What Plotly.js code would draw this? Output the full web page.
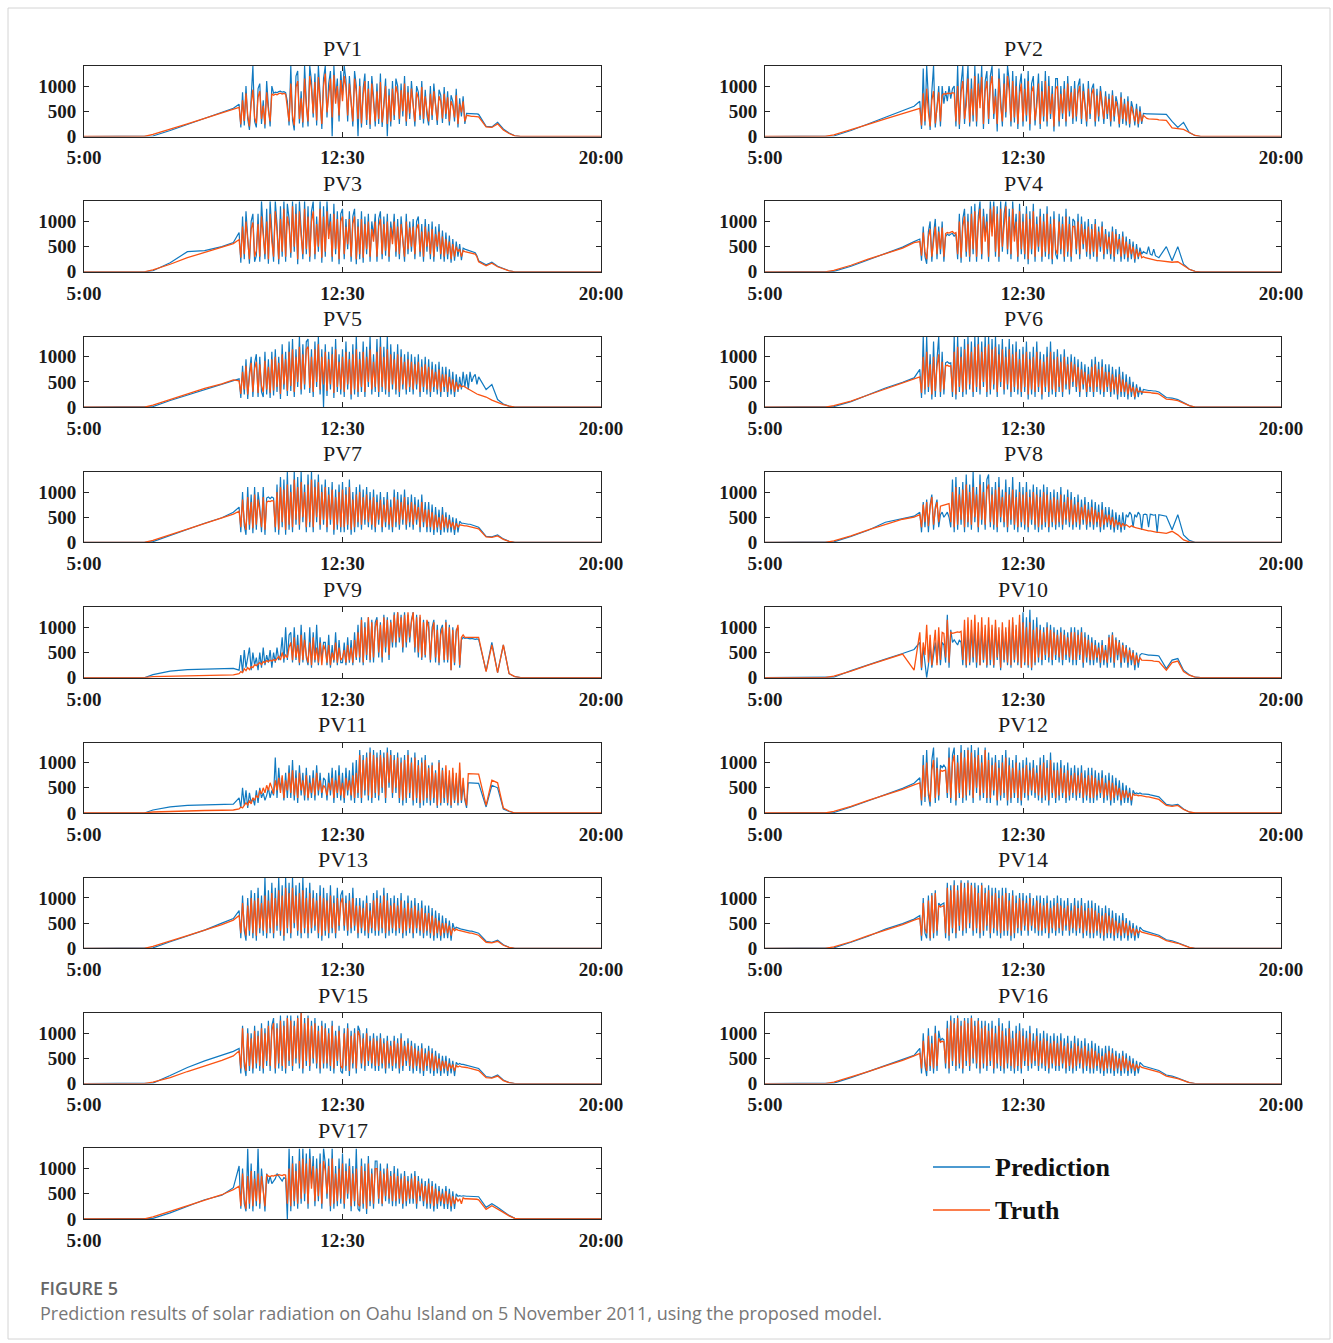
<!DOCTYPE html>
<html><head><meta charset="utf-8">
<script src="https://cdn.plot.ly/plotly-3.0.1.min.js"></script>
<style>html,body{margin:0;padding:0;background:#fff;}#chart{width:1333px;height:1343px;}</style>
</head><body><div id="chart"></div>
<script>
// ---------- sampling times of the day ----------
const rampTimes = ["05:00","06:45","07:00","07:30","08:00","08:30","09:00","09:20"];
const tailTimes = ["16:40","16:50","17:00","17:10","17:20","17:30","17:40","18:00","20:00"];
const denseStart = "09:30", denseStepMin = 3, denseCount = 140;   // 09:30 ... 16:27 every 3 min
const xTickVals = ["05:00","12:30","20:00"];
const xTickText = ["5:00","12:30","20:00"];
const yTickVals = [0,500,1000];
const panelNames = ["PV1","PV2","PV3","PV4","PV5","PV6","PV7","PV8","PV9","PV10","PV11","PV12","PV13","PV14","PV15","PV16","PV17"];
const seriesNames = ["Prediction","Truth"];

// ---------- solar radiation values (ramp 8 | dense 14 x 10 | tail 9) ----------
const truth1 = [0,0,40,140,250,360,470,540,
580,240,720,310,860,420,200,650,930,380, 260,780,900,350,610,240,880,520,300,850,
820,840,830,850,860,845,855,840,610,300, 1050,420,220,980,1100,350,760,280,1150,600,
300,1200,940,460,1080,320,1180,700,250,1000, 1250,480,900,1150,380,1220,650,1000,420,1120,
700,1200,980,420,1050,600,300,1150,880,350, 1000,260,820,1100,330,950,240,1050,700,300,
900,350,1080,280,600,1000,250,820,300,950, 420,1000,850,350,920,500,1050,300,880,460,
950,600,300,880,760,420,980,350,800,520, 300,850,420,900,560,320,800,700,360,850,
450,780,300,700,600,380,820,250,650,480, 700,300,420,410,400,400,400,400,400,390,
190,180,250,130,60,12,0,0,0];
const pred1 = [0,0,10,120,240,370,480,560,
640,180,880,220,1000,350,130,760,1400,300, 180,950,1050,250,720,160,1100,600,200,1000,
860,880,870,890,900,880,890,870,700,220, 1400,330,120,1200,1300,260,900,180,1400,700,
200,1400,1100,380,1250,220,1400,820,150,1150, 1400,380,1050,1300,0,1400,760,1150,300,1300,
820,1400,1120,300,1200,700,200,1300,1000,0, 1150,180,950,1250,230,1100,150,1200,800,200,
1050,250,1250,190,700,1150,0,950,200,1100, 330,1150,1000,250,1050,400,1200,210,1000,350,
1100,700,200,1000,880,330,1100,260,930,420, 220,1000,330,1050,650,230,930,820,270,980,
350,900,220,820,700,300,950,180,760,400, 800,250,460,455,450,450,450,450,450,440,
200,190,280,150,70,15,0,0,0];

const truth2 = [0,0,30,130,240,350,450,520,
560,220,860,300,950,480,200,720,900,260, 650,880,300,820,850,840,855,860,850,870,
860,300,1000,240,880,1100,350,620,1150,280, 950,420,1200,300,1050,560,1180,250,900,1100,
350,1000,1200,450,800,250,1150,600,300,1050, 480,1200,900,300,1100,380,1000,250,820,1050,
300,950,420,1100,250,880,1000,320,600,1050, 250,900,400,1100,300,1000,450,850,200,950,
1000,300,850,460,950,300,1050,500,880,360, 950,400,850,1000,350,900,600,300,950,450,
850,950,300,820,400,900,600,350,800,450, 750,300,820,400,700,550,250,780,350,650,
300,700,250,600,450,300,550,250,500,300, 420,380,360,350,350,350,340,350,340,330,
320,170,150,140,80,20,0,0,0];
const pred2 = [0,0,10,120,250,370,500,600,
700,150,1350,220,1400,600,130,900,1400,180, 700,1000,200,1000,650,900,700,1000,750,950,
1000,200,1400,150,1050,1400,250,750,1400,200, 1150,300,1400,200,1250,700,1400,150,1100,1300,
250,1200,1400,350,950,100,1350,750,200,1250, 380,1400,1100,200,1300,280,1200,150,1000,1250,
200,1150,300,1300,120,1050,1200,220,750,1250, 150,1100,300,1300,200,1200,350,1000,100,1150,
1150,200,1000,350,1100,200,1200,400,1000,250, 1100,300,1000,1150,250,1050,700,200,1100,350,
950,1050,200,950,300,1000,700,250,900,350, 850,200,920,300,800,650,180,880,250,750,
220,800,180,700,550,220,650,180,600,250, 460,450,450,450,450,450,450,450,450,450,
440,300,180,280,80,20,0,0,0];

const truth3 = [0,0,40,150,280,380,480,560,
640,280,900,350,1000,520,250,850,980,300, 420,950,300,1100,680,350,1000,250,1150,600,
300,1200,800,250,1050,400,1250,300,1100,900, 380,1300,500,1150,250,1200,700,350,1250,450,
1100,300,1000,1200,350,950,500,1250,280,1100, 400,1200,650,1000,300,1150,450,1050,250,1000,
1100,350,900,550,1050,300,950,1100,250,900, 350,1050,280,950,450,1000,300,850,600,1000,
300,900,1050,350,950,420,1000,300,880,550, 1000,400,900,350,950,600,300,1000,450,880,
500,900,350,850,950,400,800,300,900,500, 800,350,850,300,750,500,800,350,700,300,
650,350,600,250,550,300,500,400,450,300, 420,400,390,380,380,370,360,350,300,200,
120,170,100,60,20,0,0,0,0];
const pred3 = [0,0,20,180,400,420,500,580,
780,180,1100,250,1200,620,160,1000,1150,200, 320,1150,200,1400,800,250,1250,160,1400,700,
200,1400,950,150,1300,300,1400,200,1350,1050, 280,1400,400,1350,150,1400,820,250,1400,350,
1300,200,1200,1400,250,1100,400,1400,180,1300, 300,1400,760,1150,200,1350,350,1200,150,1150,
1250,250,1050,450,1200,200,1100,1250,150,1050, 250,1200,180,1100,350,1150,200,1000,700,1150,
200,1050,1200,250,1100,320,1150,200,1000,650, 1150,300,1050,250,1100,700,200,1150,350,1000,
400,1050,250,1000,1100,300,950,200,1050,400, 950,250,1000,200,900,400,950,250,820,200,
780,250,720,180,650,220,600,300,550,230, 470,450,440,430,420,410,400,380,320,220,
140,190,110,70,20,0,0,0,0];

const truth4 = [0,0,30,130,250,360,470,580,
600,320,780,400,250,700,850,300,650,900, 350,800,450,880,300,760,780,770,790,800,
760,780,350,1000,280,900,1100,400,1000,300, 1150,450,1200,300,950,1250,350,1100,600,1000,
300,1250,700,1300,400,1150,300,1250,500,1000, 1300,450,1100,350,1250,600,1000,300,1200,450,
1000,350,1150,250,1050,450,1200,300,950,500, 1100,300,1000,400,1150,350,950,250,1050,450,
350,1000,450,950,300,1100,400,950,300,900, 900,450,1000,350,950,550,850,400,900,350,
850,400,950,300,800,500,900,350,750,450, 700,350,800,300,750,450,650,300,700,350,
600,280,550,350,500,250,450,300,400,280, 300,280,270,260,250,240,240,230,220,220,
200,190,200,120,50,10,0,0,0];
const pred4 = [0,0,10,110,240,370,490,600,
650,220,900,300,160,800,1000,200,750,1050, 250,900,350,1000,200,700,750,720,750,760,
700,760,250,1150,180,1050,1250,300,1150,200, 1300,350,1350,200,1100,1400,250,1250,700,1150,
200,1400,800,1400,300,1300,200,1400,400,1150, 1400,350,1250,250,1400,700,1150,200,1350,350,
1150,250,1300,150,1200,350,1350,200,1100,400, 1250,200,1150,300,1300,250,1100,150,1200,350,
250,1150,350,1100,200,1250,300,1100,200,1050, 1000,350,1150,250,1100,450,1000,300,1050,250,
950,300,1050,200,900,400,1000,250,850,350, 800,250,900,200,850,350,750,200,800,250,
700,200,650,250,600,180,550,250,480,350, 400,380,360,500,350,330,450,320,300,280,
500,220,500,150,50,10,0,0,0];

const truth5 = [0,0,40,150,260,370,460,540,
520,260,700,350,820,250,600,880,300,760, 900,280,850,420,300,920,350,800,280,950,
330,1000,400,880,260,1050,450,950,320,1100, 420,1150,300,1000,500,1200,350,1050,450,1150,
1200,380,1000,300,1150,500,1250,350,1000,450, 1100,320,950,450,1050,280,1150,400,900,350,
1000,300,1100,450,950,250,1050,350,1150,300, 950,400,1100,300,1000,500,1150,350,900,400,
1100,300,1200,400,1000,350,1150,300,1050,450, 950,350,1050,300,1000,450,900,350,950,400,
900,350,850,450,900,300,800,400,850,350, 800,300,750,400,700,350,750,300,650,400,
650,300,600,350,550,300,500,350,450,400, 420,400,380,350,330,320,300,280,260,250,
200,140,90,50,20,0,0,0,0];
const pred5 = [0,0,10,130,240,350,450,520,
560,180,820,250,950,160,700,1000,200,880, 1050,200,1000,300,200,1100,250,950,180,1100,
230,1150,300,1000,160,1250,350,1100,220,1300, 320,1350,200,1150,400,1400,250,1250,350,1300,
1350,280,1150,200,1300,400,1400,250,1150,0, 1250,220,1100,350,1200,180,1350,300,1050,250,
1150,200,1300,350,1100,150,1250,250,1400,200, 1100,300,1300,200,1200,400,1400,250,1050,300,
1350,200,1400,300,1200,250,1400,200,1250,350, 1100,250,1250,200,1150,350,1050,250,1100,300,
1050,250,1000,350,1050,200,950,300,1000,250, 950,200,900,300,850,250,900,200,800,300,
800,200,750,250,700,200,650,300,600,350, 700,400,650,350,700,500,600,650,450,600,
350,450,150,60,20,0,0,0,0];

const truth6 = [0,0,30,120,240,360,470,560,
600,280,1000,350,1100,400,850,250,1000,320, 800,1050,300,900,350,820,830,810,820,300,
1100,250,1200,400,1000,300,1150,350,1250,450, 1100,300,1200,400,1250,350,1100,500,1200,300,
1250,350,1150,450,1200,300,1050,500,1150,350, 1000,450,1150,300,1050,400,1100,350,950,300,
1050,400,1100,250,950,350,1000,300,1100,400, 950,250,900,400,1000,300,1100,350,950,300,
1000,400,900,300,1000,450,850,350,900,500, 850,400,800,300,750,450,700,300,650,400,
800,300,850,400,750,350,800,300,700,400, 700,300,650,350,600,250,650,300,550,300,
500,250,450,300,400,200,380,300,320,300, 300,300,300,290,290,280,280,280,270,260,
160,150,130,80,30,0,0,0,0];
const pred6 = [0,0,10,110,250,380,490,580,
750,180,1400,250,1400,300,1050,150,1300,200, 950,1400,200,1100,250,880,900,870,880,200,
1400,150,1400,300,1200,200,1350,250,1400,350, 1300,200,1400,300,1400,250,1300,400,1400,200,
1400,250,1350,350,1400,200,1250,400,1350,250, 1200,350,1350,200,1250,300,1300,250,1150,200,
1200,300,1300,150,1100,250,1200,200,1300,300, 1100,150,1050,300,1200,200,1300,250,1100,200,
1150,300,1050,200,1150,350,1000,250,1050,400, 1000,300,950,200,900,350,850,200,800,300,
950,200,1000,300,900,250,950,200,850,300, 850,200,800,250,750,150,800,200,700,200,
650,150,600,200,500,150,450,200,400,250, 350,340,340,330,330,320,320,320,310,300,
190,180,150,90,30,0,0,0,0];

const truth7 = [0,0,40,150,260,370,480,560,
620,300,850,420,250,900,350,800,280,950, 350,850,600,300,900,250,800,820,810,830,
820,300,1000,250,1100,400,1050,250,1150,350, 1000,300,1250,450,1100,350,1200,500,1000,300,
1150,400,1250,300,1100,500,1200,350,1000,450, 1100,300,950,450,1050,250,900,350,1000,300,
1050,300,950,350,1100,250,850,300,950,400, 1000,350,900,450,950,400,850,350,900,300,
800,450,850,300,750,400,850,350,700,300, 900,400,850,350,800,450,900,350,750,400,
800,350,750,450,700,300,800,400,650,300, 650,300,600,250,550,300,500,250,550,300,
500,280,450,300,400,250,380,300,350,340, 340,330,330,320,320,310,300,290,280,270,
110,100,130,60,20,0,0,0,0];
const pred7 = [0,0,15,140,270,380,490,600,
700,200,1000,330,150,1100,250,950,180,1100, 250,1000,700,200,1100,150,880,900,870,900,
880,200,1150,150,1300,300,1250,150,1400,250, 1150,200,1400,350,1300,250,1400,400,1150,200,
1350,300,1400,200,1250,400,1350,250,1150,350, 1250,200,1100,350,1200,150,1050,250,1150,200,
1200,200,1100,250,1250,150,1000,200,1100,300, 1150,250,1050,350,1100,300,1000,250,1050,200,
950,350,1000,200,900,300,1000,250,850,200, 1050,300,1000,250,950,350,1050,250,900,300,
950,250,900,350,850,200,950,300,800,200, 800,200,750,150,700,200,650,150,700,200,
600,200,550,200,500,150,480,200,420,380, 380,370,370,360,360,350,340,330,320,300,
120,110,150,70,20,0,0,0,0];

const truth8 = [0,0,30,130,250,360,460,500,
550,300,750,400,800,320,700,900,350,650, 800,400,720,730,740,750,760,770,400,1000,
300,1100,350,950,450,1050,300,1150,400,1000, 350,1100,500,950,300,1150,450,1000,350,1050,
1150,400,950,350,1050,300,1100,500,900,400, 1000,300,950,450,1050,350,900,300,1000,400,
950,350,1000,300,900,450,1000,350,950,300, 900,350,1000,400,950,300,850,400,900,350,
850,400,950,350,800,450,900,400,850,350, 750,400,800,350,700,450,750,350,650,400,
700,350,650,400,600,300,650,350,550,400, 550,350,500,300,450,350,400,300,380,330,
350,320,300,330,310,300,290,280,270,260, 250,240,240,230,230,220,220,210,200,200,
180,220,150,50,10,0,0,0,0];
const pred8 = [0,0,10,120,240,400,480,520,
600,200,800,300,850,200,750,950,250,700, 850,300,550,600,500,550,600,500,300,1250,
200,1300,250,1100,350,1200,200,1350,300,1150, 250,1400,400,1100,200,1350,350,1200,250,1250,
1350,300,1100,250,1200,200,1300,400,1050,300, 1250,200,1100,350,1300,250,1050,200,1200,300,
1100,250,1200,200,1050,350,1150,250,1100,200, 1050,250,1150,300,1100,200,1000,300,1050,250,
1000,300,1100,250,950,350,1050,300,1000,250, 900,300,950,250,850,350,900,250,800,300,
850,250,800,300,750,200,800,250,700,300, 700,250,650,200,600,250,550,200,600,250,
550,500,600,550,300,550,500,600,550,250, 550,560,550,300,560,550,540,550,200,550,
520,250,550,150,40,0,0,0,0];

const truth9 = [0,0,20,30,40,45,50,55,
80,120,100,180,140,200,160,220,200,260, 240,280,300,260,320,300,340,320,350,330,
360,340,380,420,350,500,380,450,400,600, 700,350,800,400,650,300,850,350,750,450,
300,700,250,800,350,600,300,700,250,650, 550,300,650,250,500,350,700,300,600,350,
400,550,300,650,350,600,300,750,400,900, 400,1150,300,1000,450,1200,350,1100,400,1000,
1150,500,1050,400,1200,600,1150,450,1100,700, 1250,700,1300,800,1200,600,1250,700,1300,800,
1100,1300,600,1200,500,1250,400,1100,450,1150, 1000,350,900,1100,400,950,300,850,1000,350,
1100,350,1000,150,950,300,900,1050,250,800, 850,800,800,800,800,800,800,800,800,800,
120,650,100,650,80,20,0,0,0];
const pred9 = [0,0,60,130,160,170,180,185,
150,450,100,550,200,380,600,150,500,250, 400,150,500,200,600,250,450,300,550,200,
500,300,600,350,450,800,300,1000,350,850, 900,300,1000,350,850,250,1050,300,900,400,
250,1000,200,900,300,1050,250,800,350,700, 700,250,850,200,650,300,900,250,750,300,
300,700,250,800,300,750,250,900,350,1050, 300,1200,250,1100,350,1200,300,1150,300,1100,
1200,400,1100,300,1250,500,1200,350,1150,600, 1300,600,1300,700,1250,500,1300,600,1250,700,
1150,1300,500,1250,400,1200,350,1150,400,1100, 1100,300,1000,1150,300,1050,250,950,1050,300,
1150,300,1050,150,1000,250,950,1000,200,750, 800,780,790,780,770,780,770,760,770,760,
130,700,100,650,80,20,0,0,0];

const truth10 = [0,0,30,130,250,360,470,150,
900,200,700,450,1050,300,850,250,600,950, 250,1000,350,900,880,400,1150,300,900,880,
890,900,910,900,920,350,1150,250,1200,300, 1150,400,1250,300,1100,250,1200,350,1050,250,
1200,350,1050,250,1150,400,1000,200,1100,350, 1000,300,1150,250,1200,350,1050,300,1250,200,
1100,300,1000,250,1100,200,950,300,1000,400, 950,350,900,450,1000,400,950,350,900,450,
850,400,900,350,850,450,800,400,900,350, 900,350,850,450,900,300,800,400,750,350,
700,350,650,400,600,300,650,350,550,300, 800,400,850,300,750,450,700,300,650,400,
600,300,550,350,500,250,450,300,400,350, 350,350,350,340,340,340,330,330,330,320,
150,300,330,120,50,10,0,0,0];
const pred10 = [0,0,10,140,260,370,480,560,
700,150,600,350,0,250,650,200,500,700, 300,800,250,700,650,300,1250,200,950,700,
750,700,650,750,700,250,950,200,1000,250, 950,300,1000,200,900,250,1000,300,850,200,
1000,250,950,200,1000,350,850,150,950,300, 900,250,1000,200,1100,300,950,250,1100,200,
1300,250,1200,200,1350,150,1150,250,1200,300, 1050,250,1000,350,1100,300,1050,250,1000,350,
950,300,1000,250,950,350,900,300,1000,250, 1000,250,950,350,1000,200,900,300,850,250,
800,250,750,300,700,200,750,250,650,200, 850,300,900,200,800,350,750,200,700,300,
650,200,600,250,550,150,500,200,450,480, 470,460,460,450,450,450,440,440,440,430,
180,350,380,150,60,10,0,0,0];

const truth11 = [0,0,20,35,45,50,55,60,
80,120,100,150,200,160,250,180,300,250, 350,300,450,380,500,400,550,450,600,500,
380,650,450,700,400,750,300,650,450,800, 400,850,350,700,300,800,450,650,350,750,
300,600,400,700,350,800,450,650,400,550, 500,350,600,450,700,300,650,400,750,350,
600,300,700,450,650,350,750,300,800,400, 1150,300,1050,450,1100,350,1200,300,1150,400,
1100,350,1150,500,1100,300,1200,600,1150,400, 1050,500,1100,300,1000,250,1050,300,1150,400,
1000,250,1100,300,950,200,1000,250,1050,300, 900,250,950,300,800,150,1000,200,850,300,
950,200,850,150,900,250,800,200,1000,250, 700,300,150,780,780,780,780,780,780,770,
150,650,600,100,40,0,0,0,0];
const pred11 = [0,0,60,120,150,160,170,175,
300,100,500,150,450,100,400,200,300,150, 450,200,500,300,400,250,350,500,300,450,
350,1100,300,900,450,700,250,800,300,950, 300,1050,250,850,200,950,350,800,250,900,
250,750,300,850,250,950,350,800,300,700, 650,250,800,350,900,200,850,300,950,250,
800,200,900,350,850,250,1000,200,1050,300, 1250,200,1150,350,1200,250,1300,200,1250,300,
1200,250,1250,400,1200,200,1300,500,1250,300, 1150,400,1200,200,1100,150,1150,200,1250,300,
1100,150,1200,200,1050,100,1100,150,1150,200, 950,150,1000,200,850,100,1050,150,900,200,
800,150,750,100,800,200,700,150,850,200, 550,250,100,600,600,600,600,600,600,590,
120,550,500,80,30,0,0,0,0];

const truth12 = [0,0,30,130,250,360,470,560,
600,250,950,320,1000,450,220,850,1050,300, 900,350,850,830,840,850,400,1100,300,1000,
1150,250,1000,400,1200,300,1100,350,1250,450, 1200,300,1100,500,1150,350,1000,400,1250,300,
1050,300,950,450,1000,250,900,350,1000,400, 1100,250,950,300,900,400,1000,300,850,250,
900,400,950,350,850,450,900,400,800,350, 950,300,1000,350,900,250,1050,400,850,300,
850,350,900,400,800,300,850,350,750,400, 800,350,750,400,800,300,700,350,750,300,
750,300,700,350,650,400,700,300,600,350, 650,250,600,300,550,350,500,250,450,300,
450,300,400,250,380,350,360,340,350,340, 330,330,320,320,310,300,300,290,280,270,
150,130,150,70,20,0,0,0,0];
const pred12 = [0,0,10,120,240,370,490,590,
700,150,1150,220,1250,350,130,1050,1300,200, 1100,250,950,900,950,900,300,1300,200,1150,
1300,150,1150,300,1350,200,1250,250,1300,350, 1350,200,1250,400,1300,250,1150,300,1300,200,
1200,200,1100,350,1150,150,1050,250,1150,300, 1250,150,1100,200,1050,300,1150,200,1000,150,
1050,300,1100,250,1000,350,1050,300,950,250, 1100,200,1150,250,1050,150,1200,300,1000,200,
1000,250,1050,300,950,200,1000,250,900,300, 950,250,900,300,950,200,850,250,900,200,
900,200,850,250,800,300,850,200,750,250, 800,150,750,200,700,250,650,150,600,200,
550,200,500,150,450,380,400,380,400,380, 380,380,370,370,360,350,350,340,330,320,
170,150,170,80,20,0,0,0,0];

const truth13 = [0,0,40,140,250,360,470,560,
650,300,900,450,250,850,350,1000,300,950, 250,1000,400,900,350,1050,300,950,400,1100,
300,1000,450,1150,350,1050,250,1200,400,1100, 300,1200,500,1050,350,1100,300,1150,400,1000,
300,1100,400,1000,450,950,300,1050,250,1000, 350,950,300,1050,400,900,300,1000,450,900,
1000,450,900,350,950,400,1000,450,850,300, 850,400,800,350,900,300,750,400,950,350,
1000,350,900,400,1050,300,950,350,850,400, 900,350,850,400,950,300,800,350,900,400,
800,300,850,400,750,350,800,300,700,350, 700,300,650,250,600,300,550,250,500,300,
500,300,450,250,400,350,380,360,350,340, 330,330,320,310,300,300,290,280,270,260,
120,110,140,60,20,0,0,0,0];
const pred13 = [0,0,10,130,240,360,500,590,
750,200,1050,350,150,1000,250,1150,200,1100, 150,1200,300,1050,250,1400,200,1150,300,1300,
200,1200,350,1400,250,1250,150,1400,300,1300, 200,1400,400,1250,250,1300,200,1400,300,1200,
200,1300,300,1150,350,1100,200,1250,150,1200, 250,1100,200,1250,300,1050,200,1200,350,1050,
1150,350,1050,250,1100,300,1200,350,1000,200, 1000,300,950,250,1050,200,900,300,1100,250,
1150,250,1050,300,1200,200,1100,250,1000,300, 1050,250,1000,300,1100,200,950,250,1050,300,
950,200,1000,300,900,250,950,200,850,250, 850,200,800,150,750,200,700,150,650,200,
600,200,550,150,500,380,420,400,390,380, 370,370,360,350,340,340,330,320,310,300,
140,120,160,70,20,0,0,0,0];

const truth14 = [0,0,30,130,250,360,470,560,
600,250,900,400,300,950,200,1050,300,1100, 350,850,820,830,850,300,1200,250,1150,400,
1250,300,1150,450,1300,350,1200,400,1300,500, 1250,350,1200,400,1100,300,1250,350,1100,450,
1150,300,1050,400,1100,350,1000,300,1050,350, 1100,350,950,250,1050,300,900,400,1000,350,
950,450,900,350,1000,450,850,400,950,350, 900,350,850,400,900,300,800,400,850,350,
900,400,850,350,800,450,850,350,750,400, 850,350,800,400,850,300,750,350,800,300,
800,300,750,350,700,300,650,250,700,300, 650,300,600,250,550,300,500,250,550,300,
500,250,450,300,400,250,380,300,350,320, 310,300,300,290,280,270,260,250,240,230,
150,130,100,60,20,0,0,0,0];
const pred14 = [0,0,10,120,240,380,490,580,
650,150,1000,300,200,1050,150,1100,200,1150, 250,900,850,880,900,200,1300,150,1250,300,
1350,200,1250,350,1350,250,1300,300,1350,400, 1300,250,1300,300,1250,200,1300,250,1200,350,
1250,200,1200,300,1200,250,1150,200,1200,250, 1200,250,1100,150,1150,200,1050,300,1100,250,
1100,350,1050,250,1100,350,1000,300,1050,250, 1050,250,1000,300,1050,200,950,300,1000,250,
1050,300,1000,250,950,350,1000,250,900,300, 1000,250,950,300,1000,200,900,250,950,200,
950,200,900,250,850,200,800,150,850,200, 800,200,750,150,700,200,650,150,700,200,
600,150,550,200,500,150,450,200,420,380, 350,340,330,320,310,300,290,280,270,260,
170,150,110,70,20,0,0,0,0];

const truth15 = [0,0,30,120,240,350,460,550,
650,300,1100,450,250,1000,350,900,300,1050, 400,950,350,1100,300,1000,450,1150,350,1050,
1200,300,1100,400,1250,350,1150,300,1300,450, 1250,350,1150,500,1300,400,1400,300,1200,450,
1300,350,1150,500,1200,400,1050,300,1150,400, 1100,400,1000,350,1150,300,950,450,1050,350,
300,1000,350,1100,250,950,400,1000,300,1050, 950,400,900,350,1000,450,850,400,900,350,
850,350,900,400,800,300,850,400,750,350, 850,400,800,300,900,350,750,450,800,350,
750,300,700,350,650,300,700,250,600,350, 650,300,600,250,550,300,500,250,450,300,
450,250,400,300,380,250,360,330,350,330, 330,320,320,310,300,300,290,280,270,260,
120,110,150,60,20,0,0,0,0];
const pred15 = [0,0,10,160,320,450,560,640,
700,200,1150,350,150,1100,250,1000,200,1150, 300,1050,250,1200,200,1100,350,1250,250,1150,
1300,200,1200,300,1350,250,1250,200,1350,350, 1350,250,1250,400,1350,300,1400,200,1300,350,
1350,250,1250,400,1300,300,1150,200,1250,300, 1200,300,1100,250,1250,200,1050,350,1150,250,
200,1100,250,1200,150,1050,300,1100,200,1150, 1050,300,1000,250,1100,350,950,300,1000,250,
950,250,1000,300,900,200,950,300,850,250, 950,300,900,200,1000,250,850,350,900,250,
850,200,800,250,750,200,800,150,700,250, 750,200,700,150,650,200,600,150,550,200,
550,150,500,200,450,150,420,380,400,380, 380,370,360,350,340,340,330,320,310,300,
140,120,170,70,20,0,0,0,0];

const truth16 = [0,0,30,130,240,350,460,550,
600,300,850,450,250,950,350,800,300,1000, 350,900,820,840,830,400,1100,300,1250,450,
1200,350,1300,400,1150,300,1250,450,1200,350, 1300,500,1150,400,1250,300,1100,400,1150,350,
1050,450,1100,300,1000,400,1150,350,1050,300, 950,400,1100,350,900,300,1000,350,1050,300,
950,450,900,350,1000,400,850,450,950,350, 850,400,900,350,850,300,800,400,850,350,
800,350,850,400,750,300,800,350,700,300, 800,350,750,400,700,300,750,350,650,300,
700,300,650,350,600,300,550,250,600,300, 650,300,600,250,550,300,500,250,550,300,
500,250,450,300,400,250,380,300,350,320, 310,300,300,290,280,270,260,250,240,230,
150,130,100,60,20,0,0,0,0];
const pred16 = [0,0,10,120,240,360,470,560,
700,200,1000,350,150,1100,250,950,200,1150, 250,1050,850,900,870,300,1250,200,1350,350,
1300,250,1350,300,1250,200,1300,350,1300,250, 1350,400,1250,300,1300,200,1250,300,1250,250,
1200,350,1250,200,1150,300,1300,250,1200,200, 1100,300,1250,250,1050,200,1150,250,1200,200,
1100,350,1050,250,1150,300,1000,350,1100,250, 1000,300,1050,250,1000,200,950,300,1000,250,
950,250,1000,300,900,200,950,250,850,200, 950,250,900,300,850,200,900,250,800,200,
850,200,800,250,750,200,700,150,750,200, 750,200,700,150,650,200,600,150,650,200,
600,150,550,200,500,150,450,200,420,380, 350,340,330,320,310,300,290,280,270,260,
170,150,110,70,20,0,0,0,0];

const truth17 = [0,0,40,150,270,380,480,580,
650,250,900,400,200,850,300,950,250,800, 350,900,300,850,500,250,880,850,840,860,
850,870,860,880,870,860,880,870,300,1000, 250,1100,350,950,300,1150,400,1200,500,1100,
300,1200,600,1050,350,1000,450,1100,300,1150, 950,500,1050,250,1200,300,900,350,1000,400,
1100,300,950,500,1050,250,900,350,1000,300, 250,1050,300,950,200,1100,350,900,300,1000,
1000,400,950,300,900,450,1000,400,850,350, 900,350,850,400,800,300,850,350,750,400,
800,400,850,300,750,450,700,350,650,300, 700,300,650,250,600,300,550,350,500,300,
550,300,500,250,450,300,420,350,400,300, 420,400,400,400,400,400,400,390,390,380,
190,260,200,130,60,10,0,0,0];
const pred17 = [0,0,10,120,250,380,470,620,
1050,200,1000,300,150,1400,200,1100,150,950, 250,1400,200,1000,600,150,900,700,850,700,
750,800,900,850,800,750,820,800,0,1400, 150,1250,250,1100,200,1400,300,1400,350,1300,
200,1400,700,1250,250,1200,350,1300,200,1400, 1100,400,1200,150,1400,200,1050,250,1200,300,
1300,200,1100,400,1200,150,1050,250,1400,200, 150,1200,200,1100,100,1250,250,1000,200,1150,
1150,300,1100,250,1000,350,1100,300,950,250, 1050,250,1000,300,900,200,950,250,850,300,
900,300,950,200,850,350,800,250,750,200, 800,200,750,150,700,200,650,250,600,200,
650,200,600,150,550,200,500,450,460,450, 460,450,450,450,450,450,450,440,440,440,
230,300,230,150,70,10,0,0,0];

const preds = [pred1,pred2,pred3,pred4,pred5,pred6,pred7,pred8,pred9,pred10,pred11,pred12,pred13,pred14,pred15,pred16,pred17];
const truths = [truth1,truth2,truth3,truth4,truth5,truth6,truth7,truth8,truth9,truth10,truth11,truth12,truth13,truth14,truth15,truth16,truth17];

// ---------- build the time labels of the regular 3-min grid ----------
const pad = v => String(v).padStart(2,'0');
const denseTimes = [];
{ const [h0,m0] = denseStart.split(':').map(Number);
  for (let k=0;k<denseCount;k++){ const m = h0*60+m0+k*denseStepMin; denseTimes.push(pad(Math.floor(m/60))+':'+pad(m%60)); } }
const times = rampTimes.concat(denseTimes, tailTimes);

// ---------- layout geometry ----------
const W = 1333, H = 1343;
const colX = [[84,601],[765,1281]];
const rowTop0 = 66, rowStep = 135.3, boxH = 70.5;
const predColor = '#1079C0', truthColor = '#FA5312';
const serif = '"Liberation Serif","Times New Roman",Times,serif';
const day = t => '2011-11-05 ' + t;
const xDates = times.map(day);

const traces = [], layout = {
  width: W, height: H, margin: {l:0,r:0,t:0,b:0},
  paper_bgcolor: '#fff', plot_bgcolor: '#fff', showlegend: false,
  annotations: [], shapes: []
};

panelNames.forEach((name, i) => {
  const row = Math.floor(i/2), col = i%2;
  const top = rowTop0 + rowStep*row, bot = top + boxH;
  const [x0,x1] = colX[col];
  const n = i+1, xa = 'x'+(n===1?'':n), ya = 'y'+(n===1?'':n);
  traces.push({x: xDates, y: preds[i], type:'scatter', mode:'lines', name: seriesNames[0],
    xaxis: xa, yaxis: ya, line:{color: predColor, width:1.2}, hoverinfo:'skip'});
  traces.push({x: xDates, y: truths[i], type:'scatter', mode:'lines', name: seriesNames[1],
    xaxis: xa, yaxis: ya, line:{color: truthColor, width:1.3}, hoverinfo:'skip'});
  const axCommon = {showline:true, linecolor:'#262626', linewidth:1, mirror:'ticks',
    ticks:'inside', ticklen:5, tickwidth:1, tickcolor:'#262626', showgrid:false, zeroline:false,
    fixedrange:true, tickfont:{family: serif, size:19, color:'#1a1a1a', weight:'bold'}};
  layout['xaxis'+(n===1?'':n)] = Object.assign({}, axCommon, {
    type:'date', domain:[x0/W, x1/W], anchor: ya,
    range:[day(xTickVals[0]), day(xTickVals[2])],
    tickmode:'array', tickvals: xTickVals.map(day), ticktext: xTickText, ticklabelstandoff: 4});
  layout['yaxis'+(n===1?'':n)] = Object.assign({}, axCommon, {
    domain:[1-bot/H, 1-top/H], anchor: xa, range:[0,1400],
    tickmode:'array', tickvals: yTickVals, ticktext: yTickVals.map(String), ticklabelstandoff: 3});
  layout.annotations.push({xref:'paper', yref:'paper', x:(x0+x1)/2/W, y:1-(top-18)/H,
    xanchor:'center', yanchor:'middle', showarrow:false, text:name,
    font:{family: serif, size:22, color:'#1a1a1a'}});
});

// legend (drawn as lines + labels)
const legY = [1167, 1210];
seriesNames.forEach((s, k) => {
  layout.shapes.push({type:'line', xref:'paper', yref:'paper', x0:933/W, x1:990/W,
    y0:1-legY[k]/H, y1:1-legY[k]/H, line:{color: k===0?predColor:truthColor, width:1.3}});
  layout.annotations.push({xref:'paper', yref:'paper', x:993/W, y:1-legY[k]/H,
    xanchor:'left', yanchor:'middle', showarrow:false, text:s,
    font:{family: serif, size:26, color:'#111', weight:'bold'}});
});

// figure frame and caption
layout.shapes.push({type:'rect', xref:'paper', yref:'paper', x0:8/W, x1:1330/W, y0:1-1339/H, y1:1-8/H,
  line:{color:'#d4d4d4', width:1}, fillcolor:'rgba(0,0,0,0)', layer:'below'});
layout.annotations.push({xref:'paper', yref:'paper', x:38/W, y:1-1288/H, xanchor:'left', yanchor:'middle',
  showarrow:false, text:'FIGURE 5', font:{family:'"Open Sans",sans-serif', size:18, color:'#666', weight:600}});
layout.annotations.push({xref:'paper', yref:'paper', x:38/W, y:1-1313/H, xanchor:'left', yanchor:'middle',
  showarrow:false, text:'Prediction results of solar radiation on Oahu Island on 5 November 2011, using the proposed model.',
  font:{family:'"Open Sans",sans-serif', size:18, color:'#777'}});

Plotly.newPlot('chart', traces, layout, {displayModeBar:false, staticPlot:true}).then(() => {
  const bad = [];
  preds.forEach((p,i) => { if (p.length !== times.length) bad.push('pred'+(i+1)+':'+p.length); });
  truths.forEach((p,i) => { if (p.length !== times.length) bad.push('truth'+(i+1)+':'+p.length); });
  if (bad.length) throw new Error('Length mismatch (expected '+times.length+'): '+bad.join(', '));
});
</script></body></html>
